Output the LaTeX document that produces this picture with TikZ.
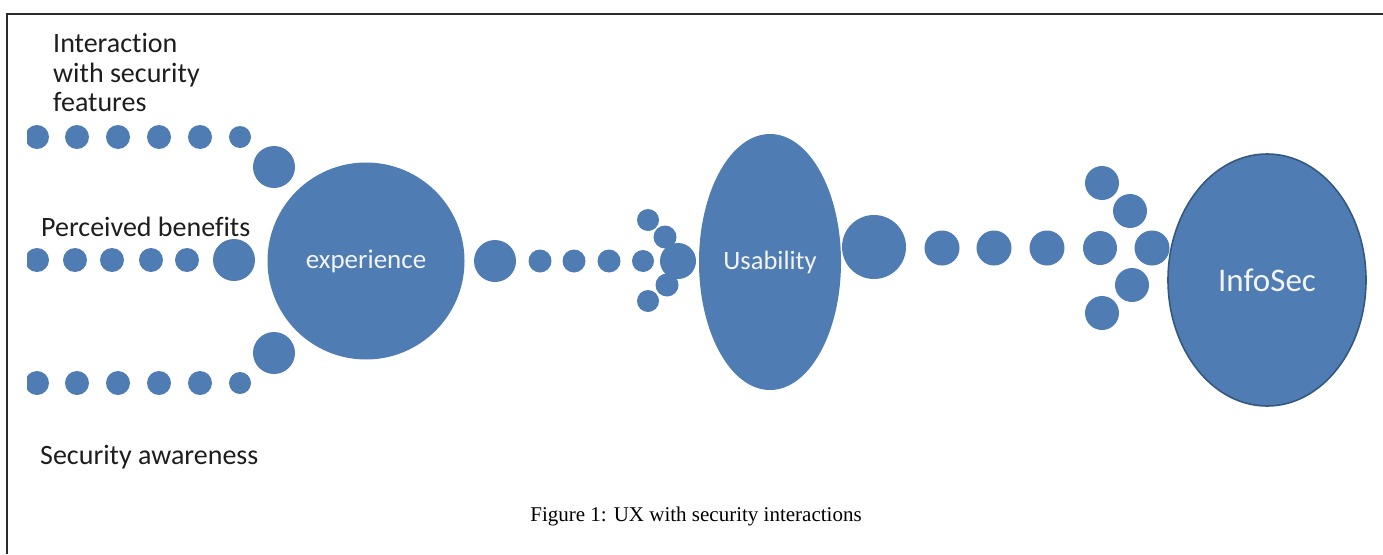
\documentclass[tikz,border=0pt]{standalone}
\usepackage{fontspec}
\usetikzlibrary{shapes.geometric}
\setmainfont{Carlito}[RawFeature={-liga}]
\newfontfamily\capfont{Liberation Serif}
\definecolor{dotblue}{HTML}{4F7DB3}
\definecolor{rimblue}{HTML}{34587F}
\definecolor{labelgray}{HTML}{1E1E1E}
\definecolor{framegray}{HTML}{2B2B2B}
\definecolor{inwhite}{HTML}{F2F4F8}
\begin{document}
\begin{tikzpicture}[x=1pt,y=-1pt,
  dot/.style={circle,fill=dotblue,inner sep=0pt,minimum size=#1},
  lbl/.style={text=labelgray,font=\fontsize{28}{30}\selectfont,inner sep=0pt,anchor=base west},
  inlbl/.style={text=inwhite,inner sep=0pt}]
\useasboundingbox (0,0) rectangle (1383,554);
\fill[white] (0,0) rectangle (1383,554);
\draw[framegray,line width=2pt] (7,554) -- (7,14) -- (1383,14);
% left rows
\begin{scope}
\clip (27,0) rectangle (1383,554);
\node[dot=24pt] (t1) at (37,137) {};
\node[dot=24pt] (t2) at (77,137) {};
\node[dot=24pt] (t3) at (118,137) {};
\node[dot=24pt] (t4) at (159,137) {};
\node[dot=24pt] (t5) at (200,137) {};
\node[dot=22pt] (t6) at (240,137) {};
\node[dot=24pt] (m1) at (37,260) {};
\node[dot=24pt] (m2) at (75,260) {};
\node[dot=24pt] (m3) at (112,260) {};
\node[dot=24pt] (m4) at (151,260) {};
\node[dot=24pt] (m5) at (187,260) {};
\node[dot=24pt] (b1) at (37,383) {};
\node[dot=24pt] (b2) at (77,383) {};
\node[dot=24pt] (b3) at (118,383) {};
\node[dot=24pt] (b4) at (159,383) {};
\node[dot=24pt] (b5) at (200,383) {};
\node[dot=22pt] (b6) at (240,383) {};
\end{scope}
\node[dot=42pt] (tb) at (274,167) {};
\node[dot=42pt] (mb) at (234,260) {};
\node[dot=42pt] (bb) at (274,353) {};
\node[dot=197pt,inlbl,font=\fontsize{27}{30}\selectfont] (exp) at (366,261) {experience};
% middle
\node[dot=42pt] (c1) at (495,261) {};
\node[dot=23pt] (c2) at (540,261) {};
\node[dot=23pt] (c3) at (574,261) {};
\node[dot=23pt] (c4) at (609,261) {};
\node[dot=22pt] (a1) at (648,220) {};
\node[dot=23pt] (a2) at (665,237) {};
\node[dot=22pt] (a3) at (643,261) {};
\node[dot=36pt] (a4) at (678,261) {};
\node[dot=23pt] (a5) at (667,285) {};
\node[dot=22pt] (a6) at (648,301) {};
\node[ellipse,fill=dotblue,minimum width=142pt,minimum height=256pt,inner sep=0pt,inlbl,font=\fontsize{26.5}{30}\selectfont] (usa) at (770,262) {Usability};
\node[dot=64pt] (d1) at (874,247) {};
\node[dot=35pt] (d2) at (942,248) {};
\node[dot=35pt] (d3) at (994,248) {};
\node[dot=35pt] (d4) at (1047,248) {};
\node[dot=34pt] (r1) at (1102,183) {};
\node[dot=34pt] (r2) at (1130,211) {};
\node[dot=34pt] (r3) at (1100,248) {};
\node[dot=35pt] (r4) at (1152,248) {};
\node[dot=34pt] (r5) at (1132,285) {};
\node[dot=34pt] (r6) at (1102,313) {};
\node[ellipse,fill=dotblue,draw=rimblue,line width=1.6pt,minimum width=198pt,minimum height=252pt,inner sep=0pt,inlbl,font=\fontsize{33}{36}\selectfont] (info) at (1267,280) {InfoSec};
% labels
\node[lbl] (l1a) at (53,52) {Interaction};
\node[lbl] (l1b) at (53,82) {with security};
\node[lbl] (l1c) at (53,111) {features};
\node[lbl] (l2) at (41,236) {Perceived benefits};
\node[lbl] (l3) at (40,464) {Security awareness};
\node[text=black,font=\capfont\fontsize{21}{24}\selectfont,inner sep=0pt] (cap) at (696,516) {Figure 1: UX with security interactions};
\end{tikzpicture}
\end{document}
